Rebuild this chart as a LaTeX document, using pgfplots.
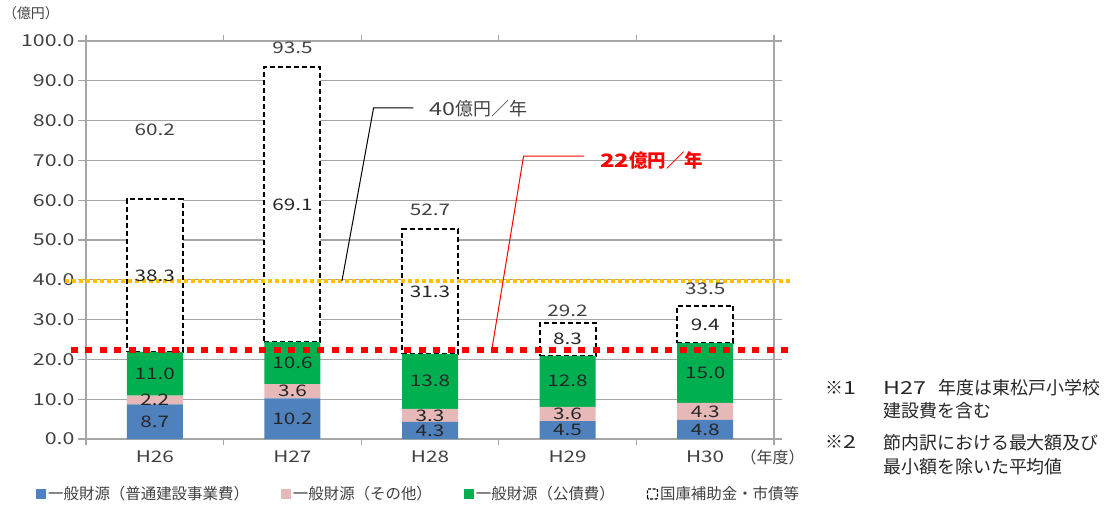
\documentclass[border=0pt]{standalone}
\usepackage{pgfplots}
\pgfplotsset{compat=1.18}
\usepackage{pgfplotstable}
\usepackage{fontspec}
\setmainfont{Noto Sans CJK JP}
\newfontfamily\numfont{Noto Sans CJK JP}[FakeStretch=1.3]

\definecolor{cBlue}{HTML}{4F81BD}
\definecolor{cPink}{HTML}{E6B9B8}
\definecolor{cGreen}{HTML}{00B050}
\definecolor{cOrange}{HTML}{FFC000}
\definecolor{cGrid}{HTML}{A6A6A6}
\definecolor{cText}{HTML}{404040}

% x = category position, toty = where the total label sits
\pgfplotstableread{
x    ippan sonota kosai kokko total toty
0.5  8.7   2.2    11.0  38.3  60.2  77.6
1.5  10.2  3.6    10.6  69.1  93.5  98.2
2.5  4.3   3.3    13.8  31.3  52.7  57.5
3.5  4.5   3.6    12.8  8.3   29.2  32.2
4.5  4.8   4.3    15.0  9.4   33.5  37.7
}\budget

\pgfplotsset{frame/.style={scale only axis, width=688bp, height=398bp,
  xmin=0, xmax=5, ymin=0, ymax=100, at={(0,0)}, anchor=south west}}

\begin{document}
\begin{tikzpicture}
\begin{axis}[frame,
  ybar stacked, bar width=56bp, clip=false,
  axis line style={cGrid, line width=1.2bp},
  ymajorgrids, grid style={cGrid, line width=1.2bp},
  ytick={0,10,...,100},
  /pgf/number format/assume math mode=true,
  yticklabel style={/pgf/number format/fixed, /pgf/number format/fixed zerofill, /pgf/number format/precision=1},
  xtick={0.5,1.5,2.5,3.5,4.5},
  xticklabels={H26,H27,H28,H29,H30},
  minor xtick={0,1,2,3,4,5},
  tick align=outside,
  major x tick style={draw=none},
  major tick length=8bp, minor tick length=6bp,
  tick style={cGrid, line width=1.2bp},
  yticklabel style={font=\numfont\fontsize{16.5}{18}\selectfont, text=cText},
  xticklabel style={font=\numfont\fontsize{16}{18}\selectfont, text=cText},
  legend style={at={(rel axis cs:-0.077,-0.138)}, anchor=west, draw=none, fill=none,
    legend columns=4, font=\fontsize{15.5}{17}\selectfont, text=cText,
    /tikz/every even column/.append style={column sep=30bp}},
  ]
\addplot[fill=cBlue, draw=none,
  legend image code/.code={\fill[cBlue] (0bp,-5bp) rectangle (10bp,5bp);}]
  table[x=x, y=ippan]{\budget};
\addlegendentry{一般財源（普通建設事業費）}
\addplot[fill=cPink, draw=none,
  legend image code/.code={\fill[cPink] (0bp,-5bp) rectangle (10bp,5bp);}]
  table[x=x, y=sonota]{\budget};
\addlegendentry{一般財源（その他）}
\addplot[fill=cGreen, draw=none,
  legend image code/.code={\fill[cGreen] (0bp,-5bp) rectangle (10bp,5bp);}]
  table[x=x, y=kosai]{\budget};
\addlegendentry{一般財源（公債費）}
\addplot[fill=white, draw=black, line width=2bp, dash pattern=on 5bp off 3bp,
  legend image code/.code={\draw[black, fill=white, line width=1.2bp, dash pattern=on 3bp off 1.5bp, rounded corners=1bp] (0bp,-5bp) rectangle (10bp,5bp);}]
  table[x=x, y=kokko]{\budget};
\addlegendentry{国庫補助金・市債等}
\end{axis}

\begin{axis}[frame, hide axis, clip=false,
  nodes near coords style={anchor=center, font=\numfont\fontsize{16}{18}\selectfont, text=black!85}]
% average lines
\addplot[cOrange, line width=3.5bp, dash pattern=on 3.5bp off 3.5bp] coordinates {(-0.15,39.7) (5.12,39.7)};
\addplot[red, line width=6bp, dash pattern=on 7bp off 7.5bp] coordinates {(-0.11,22.4) (5.15,22.4)};
% leader lines
\addplot[black, line width=1bp] coordinates {(1.86,39.7) (2.09,83.2) (2.38,83.2)};
\addplot[red, line width=1bp] coordinates {(2.95,22.6) (3.18,71.1) (3.62,71.1)};
% segment labels
\addplot[draw=none, nodes near coords, point meta=explicit symbolic]
  table[x=x, y expr=\thisrow{ippan}/2, meta=ippan]{\budget};
\addplot[draw=none, nodes near coords, point meta=explicit symbolic]
  table[x=x, y expr=\thisrow{ippan}+\thisrow{sonota}/2, meta=sonota]{\budget};
\addplot[draw=none, nodes near coords, point meta=explicit symbolic]
  table[x=x, y expr=\thisrow{ippan}+\thisrow{sonota}+\thisrow{kosai}/2, meta=kosai]{\budget};
\addplot[draw=none, nodes near coords, point meta=explicit symbolic]
  table[x=x, y expr=\thisrow{ippan}+\thisrow{sonota}+\thisrow{kosai}+\thisrow{kokko}/2, meta=kokko]{\budget};
\addplot[draw=none, nodes near coords, point meta=explicit symbolic,
  nodes near coords style={text=cText}]
  table[x=x, y=toty, meta=total]{\budget};

\node[anchor=west, font=\fontsize{18}{20}\selectfont, text=cText] at (axis cs:2.47,83.0) {{\numfont 40}億円／年};
\node[anchor=west, font=\fontsize{18.5}{20}\selectfont\bfseries, text=red] at (axis cs:3.71,70.0) {{\numfont 22}億円／年};
\node[font=\fontsize{14}{15}\selectfont, text=cText] at (axis cs:-0.40,107) {（億円）};
\node[font=\fontsize{16}{17}\selectfont, text=cText] at (axis cs:4.99,-4.6) {（年度）};

\begin{scope}[every node/.style={anchor=west, font=\fontsize{18}{20}\selectfont, text=black!85}]
\node at (axis cs:5.35,12.8) {※{\numfont 1}};
\node at (axis cs:5.77,12.8) {{\numfont H27}\hspace{0.7em}年度は東松戸小学校};
\node at (axis cs:5.77,7.0) {建設費を含む};
\node at (axis cs:5.35,-0.8) {※{\numfont 2}};
\node at (axis cs:5.77,-0.8) {節内訳における最大額及び};
\node at (axis cs:5.77,-7.0) {最小額を除いた平均値};
\end{scope}
\end{axis}
\pgfresetboundingbox
\path[use as bounding box] (-86bp,-72bp) rectangle (1024bp,439bp);
\end{tikzpicture}
\end{document}
